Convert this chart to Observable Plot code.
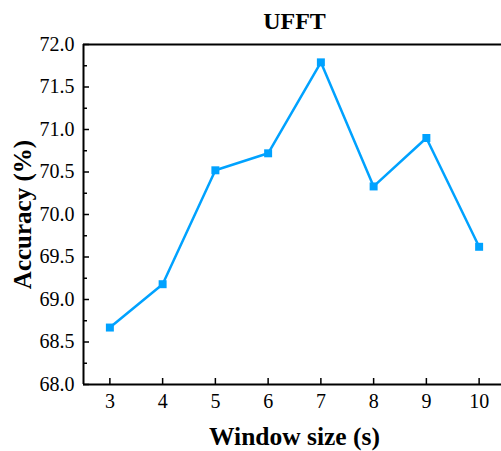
<!DOCTYPE html>
<html><head><meta charset="utf-8">
<script src="https://cdn.jsdelivr.net/npm/d3@7"></script>
<script src="https://cdn.jsdelivr.net/npm/@observablehq/plot@0.6"></script>
<style>body{margin:0;background:#fff} svg text{font-family:"Liberation Serif", "Times New Roman", serif !important;}</style>
</head><body><div id="chart"></div>
<script>
const windowSizes = [3, 4, 5, 6, 7, 8, 9, 10];
const accuracy = [68.67, 69.18, 70.52, 70.72, 71.79, 70.33, 70.90, 69.62];
const yTicks = [68.0, 68.5, 69.0, 69.5, 70.0, 70.5, 71.0, 71.5, 72.0];
const yMinorTicks = [68.25, 68.75, 69.25, 69.75, 70.25, 70.75, 71.25, 71.75];
const xTicks = [3, 4, 5, 6, 7, 8, 9, 10];
const chartTitle = "UFFT";
const xLabel = "Window size (s)";
const yLabel = "Accuracy (%)";

const data = windowSizes.map((w, i) => ({w, acc: accuracy[i]}));
const blue = "#00a2ff";
const serif = "Liberation Serif";

const chart = Plot.plot({
  width: 501,
  height: 451,
  marginLeft: 83,
  marginRight: -4,
  marginTop: 44,
  marginBottom: 67,
  style: {fontFamily: serif, fontSize: "20px", color: "#000", background: "#fff"},
  x: {domain: [2.5, 10.5]},
  y: {domain: [68, 72]},
  marks: [
    Plot.axisY(yMinorTicks, {tickSize: -4, text: null, label: null, strokeWidth: 1.5}),
    Plot.axisY(yTicks, {tickSize: -6, text: null, label: null, strokeWidth: 1.5}),
    Plot.axisX(xTicks, {tickSize: -6, text: null, label: null, strokeWidth: 1.5}),
    Plot.text(yTicks, {y: d => d, frameAnchor: "left", textAnchor: "end", lineAnchor: "middle", dx: -9, text: d => d.toFixed(1), fontFamily: serif, fontSize: 20}),
    Plot.text(xTicks, {x: d => d, frameAnchor: "bottom", textAnchor: "middle", lineAnchor: "middle", dy: 17, text: d => String(d), fontFamily: serif, fontSize: 20}),
    Plot.ruleX([2.5], {stroke: "#000", strokeWidth: 2}),
    Plot.ruleY([68, 72], {stroke: "#000", strokeWidth: 2}),
    Plot.line(data, {x: "w", y: "acc", stroke: blue, strokeWidth: 2.5}),
    Plot.dot(data, {x: "w", y: "acc", symbol: "square", r: 4.5, fill: blue, stroke: null}),
    Plot.text([chartTitle], {frameAnchor: "top", lineAnchor: "middle", dy: -23, fontFamily: serif, fontSize: 24, fontWeight: "bold", text: d => d}),
    Plot.text([xLabel], {frameAnchor: "bottom", lineAnchor: "middle", dy: 52, fontFamily: serif, fontSize: 25.5, fontWeight: "bold", text: d => d}),
    Plot.text([yLabel], {frameAnchor: "left", textAnchor: "middle", lineAnchor: "middle", dx: -61, rotate: -90, fontFamily: serif, fontSize: 25, fontWeight: "bold", text: d => d})
  ]
});
document.getElementById("chart").appendChild(chart);
</script>
</body></html>
